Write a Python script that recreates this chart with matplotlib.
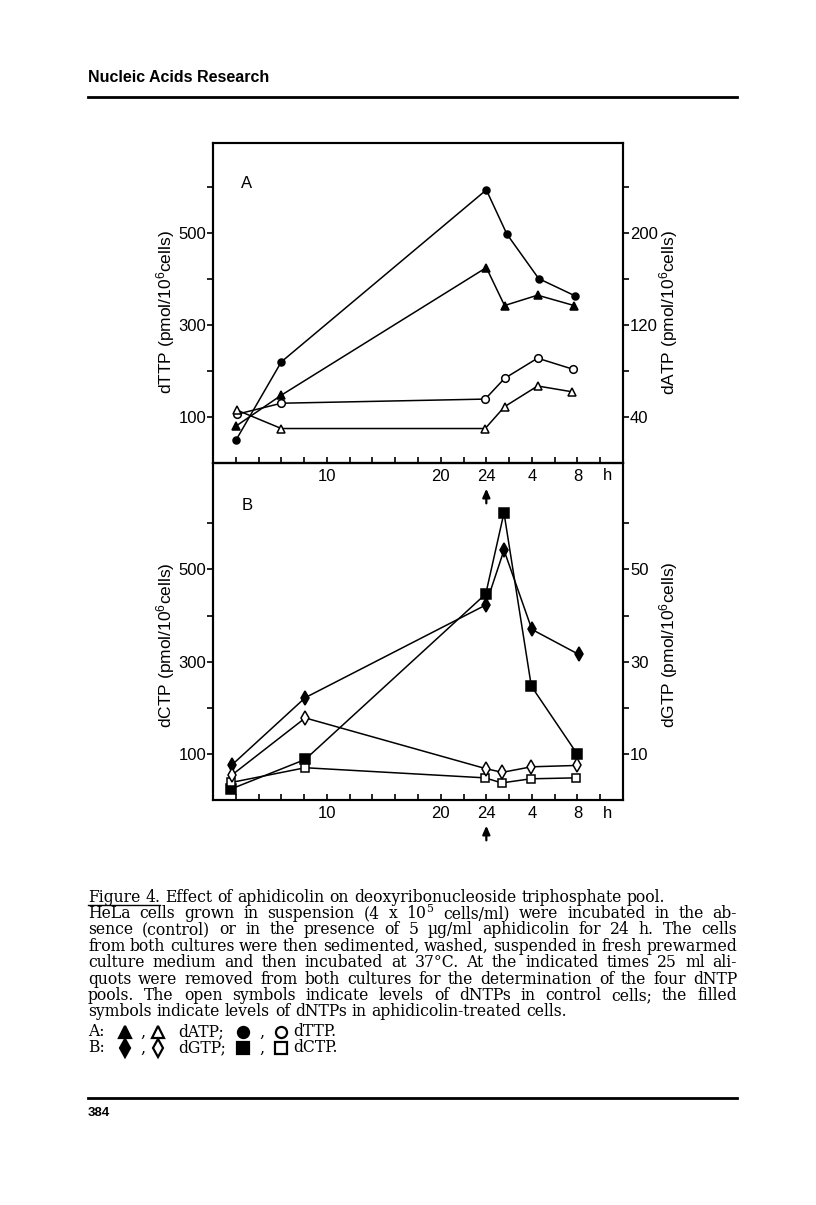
import matplotlib
matplotlib.use("Agg")
import matplotlib.pyplot as plt

plt.rcParams['font.family'] = ['Liberation Sans', 'DejaVu Sans']
plt.rcParams['mathtext.default'] = 'regular'

W, H = 816, 1205

# ---- panel A: dTTP (left axis, pmol/10^6 cells) and dATP (right axis)
a_ttp_aph_h = [2.0, 6.0, 24.0, 25.8, 28.6, 31.75]
a_ttp_aph = [49, 220, 594, 498, 401, 364]
a_ttp_ctl_h = [2.1, 6.0, 23.9, 25.6, 28.5, 31.6]
a_ttp_ctl = [106, 130, 139, 184, 228, 204]
a_atp_aph_h = [2.0, 6.0, 24.0, 25.6, 28.5, 31.7]
a_atp_aph = [32, 59, 170, 137, 146, 137]
a_atp_ctl_h = [2.1, 6.0, 23.9, 25.6, 28.5, 31.5]
a_atp_ctl = [46, 30, 30, 49, 67, 62]

# ---- panel B: dCTP (left axis) and dGTP (right axis)
b_ctp_aph_h = [1.6, 8.1, 23.95, 25.55, 27.95, 32.0]
b_ctp_aph = [24, 88, 447, 623, 247, 99]
b_ctp_ctl_h = [1.6, 8.1, 23.9, 25.35, 27.9, 31.9]
b_ctp_ctl = [38, 70, 48, 37, 46, 48]
b_gtp_aph_h = [1.7, 8.1, 23.95, 25.55, 28.0, 32.1]
b_gtp_aph = [7.7, 22.2, 42.3, 54.2, 37.0, 31.6]
b_gtp_ctl_h = [1.7, 8.1, 23.95, 25.4, 27.95, 32.0]
b_gtp_ctl = [5.5, 17.8, 6.8, 6.0, 7.2, 7.5]

# time axis: hours of treatment, then hours after release (24 + t)
x_ticks = list(range(2, 35, 2))
x_labels = {10: '10', 20: '20', 24: '24', 28: '4', 32: '8'}

caption = [
    "Figure 4. Effect of aphidicolin on deoxyribonucleoside triphosphate pool.",
    "HeLa cells grown in suspension (4 x 10$^5$ cells/ml) were incubated in the ab-",
    "sence (control) or in the presence of 5 \u00b5g/ml aphidicolin for 24 h. The cells",
    "from both cultures were then sedimented, washed, suspended in fresh prewarmed",
    "culture medium and then incubated at 37\u00b0C. At the indicated times 25 ml ali-",
    "quots were removed from both cultures for the determination of the four dNTP",
    "pools. The open symbols indicate levels of dNTPs in control cells; the filled",
    "symbols indicate levels of dNTPs in aphidicolin-treated cells.",
]
justified = [False, True, True, True, True, True, True, False]

fig = plt.figure(figsize=(W / 100, H / 100), dpi=100)


def px_axes(x0, y0, x1, y1):
    return fig.add_axes([x0 / W, 1 - y1 / H, (x1 - x0) / W, (y1 - y0) / H])


def style(ax, ax2, ymax, factor, rstep, ylabel, rlabel, lab_y):
    ax.set_xlim(0, 36)
    ax.set_ylim(0, ymax)
    ax2.set_ylim(0, ymax * factor)
    ax.set_xticks(x_ticks)
    ax.set_xticklabels([x_labels.get(t, '') for t in x_ticks])
    ax.set_yticks(range(100, 700, 100))
    ax.set_yticklabels(['100', '', '300', '', '500', ''])
    rt = [rstep * k for k in range(1, 7)]
    ax2.set_yticks(rt)
    ax2.set_yticklabels([('%g' % v) if k % 2 == 0 else '' for k, v in enumerate(rt)])
    ax.tick_params(axis='x', direction='in', length=4, width=1.2, labelsize=12, pad=4)
    ax.tick_params(axis='y', direction='out', length=4, width=1.2, labelsize=12, pad=1)
    ax2.tick_params(axis='y', direction='out', length=4, width=1.2, labelsize=12, pad=1)
    for a in (ax, ax2):
        for s in a.spines.values():
            s.set_linewidth(1.5)
    ax.set_ylabel(ylabel, fontsize=12.5)
    ax.yaxis.set_label_coords(-0.088, lab_y)
    ax2.set_ylabel(rlabel, fontsize=12.5, rotation=90)
    ax2.yaxis.set_label_coords(1.082, lab_y)
    ax.text(34.6, -0.017, 'h', transform=ax.get_xaxis_transform(), ha='center', va='top', fontsize=12)


def series(ax, h, v, marker, filled, ms):
    ax.plot(h, v, color='black', lw=1.1, marker=marker, ms=ms, mew=1.1,
            mec='black', mfc='black' if filled else 'white', clip_on=False)


# panel B first, so panel A (and its tick labels) sits on top
axB = px_axes(213, 463, 623, 800)
axB2 = axB.twinx()
style(axB, axB2, 731, 0.1, 10, 'dCTP (pmol/10$^6$cells)', 'dGTP (pmol/10$^6$cells)', 0.46)
series(axB, b_ctp_aph_h, b_ctp_aph, 's', True, 6.5)
series(axB, b_ctp_ctl_h, b_ctp_ctl, 's', False, 6)
series(axB2, b_gtp_aph_h, b_gtp_aph, 'd', True, 7.5)
series(axB2, b_gtp_ctl_h, b_gtp_ctl, 'd', False, 7.5)
axB.text(0.083, 0.875, 'B', transform=axB.transAxes, fontsize=12, ha='center', va='center')

# panel A
axA = px_axes(213, 143, 623, 463)
axA.patch.set_visible(False)
axA2 = axA.twinx()
style(axA, axA2, 696, 0.4, 40, 'dTTP (pmol/10$^6$cells)', 'dATP (pmol/10$^6$cells)', 0.47)
series(axA, a_ttp_aph_h, a_ttp_aph, 'o', True, 5)
series(axA, a_ttp_ctl_h, a_ttp_ctl, 'o', False, 5.5)
series(axA2, a_atp_aph_h, a_atp_aph, '^', True, 6)
series(axA2, a_atp_ctl_h, a_atp_ctl, '^', False, 6)
axA.text(0.083, 0.875, 'A', transform=axA.transAxes, fontsize=12, ha='center', va='center')

# arrows marking release from aphidicolin at 24 h
arr = dict(arrowstyle='-|>,head_length=0.5,head_width=0.22', color='black', lw=1.6)
axB.annotate('', xy=(24, 0.932), xytext=(24, 0.872), xycoords=('data', 'axes fraction'),
             textcoords=('data', 'axes fraction'), arrowprops=arr, annotation_clip=False)
axB.annotate('', xy=(24, -0.068), xytext=(24, -0.128), xycoords=('data', 'axes fraction'),
             textcoords=('data', 'axes fraction'), arrowprops=arr, annotation_clip=False)

# page furniture in pixel coordinates
ov = fig.add_axes([0, 0, 1, 1])
ov.set_xlim(0, W)
ov.set_ylim(H, 0)
ov.axis('off')

ov.text(88, 77, 'Nucleic Acids Research', fontsize=11.5, weight='bold', ha='left', va='center')
ov.plot([88, 737], [97, 97], color='black', lw=2)
ov.plot([88, 737], [1098, 1098], color='black', lw=2)
ov.text(88, 1113, '384', fontsize=9.5, weight='bold', ha='left', va='center')

cap_font = ['DejaVu Serif']
r = fig.canvas.get_renderer()


def width(t):
    return t.get_window_extent(r).width


probe = ov.text(0, 0, caption[0], fontsize=10, family=cap_font)
fs = 10 * 560 / width(probe) * 1.04
probe.remove()
sp_probe = ov.text(0, 0, 'a a', fontsize=fs, family=cap_font)
sp_probe2 = ov.text(0, 0, 'aa', fontsize=fs, family=cap_font)
space = width(sp_probe) - width(sp_probe2)
sp_probe.remove()
sp_probe2.remove()

y0, dy = 897, 16.4
for i, line in enumerate(caption):
    y = y0 + i * dy
    words = line.split(' ')
    ts = [ov.text(0, y, w, fontsize=fs, family=cap_font, ha='left', va='center') for w in words]
    ws = [width(t) for t in ts]
    gap = (737 - 88 - sum(ws)) / (len(ws) - 1) if justified[i] else space
    x = 88
    for t, w in zip(ts, ws):
        t.set_x(x)
        x += w + gap
    if i == 0:
        uw = ws[0] + gap + ws[1]
        ov.plot([88, 88 + uw], [y + 8, y + 8], color='black', lw=1)

# symbol key
rows = [
    (1032, 'A:', ('^', True), ('^', False), 'dATP;', ('o', True), ('o', False), 'dTTP.'),
    (1048, 'B:', ('d', True), ('d', False), 'dGTP;', ('s', True), ('s', False), 'dCTP.'),
]
for y, lab, m1, m2, n1, m3, m4, n2 in rows:
    ov.text(88, y, lab, fontsize=fs, family=cap_font, ha='left', va='center')
    for xm, (mk, fill) in zip([125, 158, 243, 281], [m1, m2, m3, m4]):
        ov.plot([xm], [y], marker=mk, ms=9 if mk == 'd' else 8, mew=1.6, mec='black',
                mfc='black' if fill else 'white', ls='none')
    ov.text(143, y, ',', fontsize=fs, family=cap_font, ha='center', va='center')
    ov.text(262, y, ',', fontsize=fs, family=cap_font, ha='center', va='center')
    ov.text(178, y, n1, fontsize=fs, family=cap_font, ha='left', va='center')
    ov.text(293, y, n2, fontsize=fs, family=cap_font, ha='left', va='center')

fig.savefig('out.png', dpi=100)
